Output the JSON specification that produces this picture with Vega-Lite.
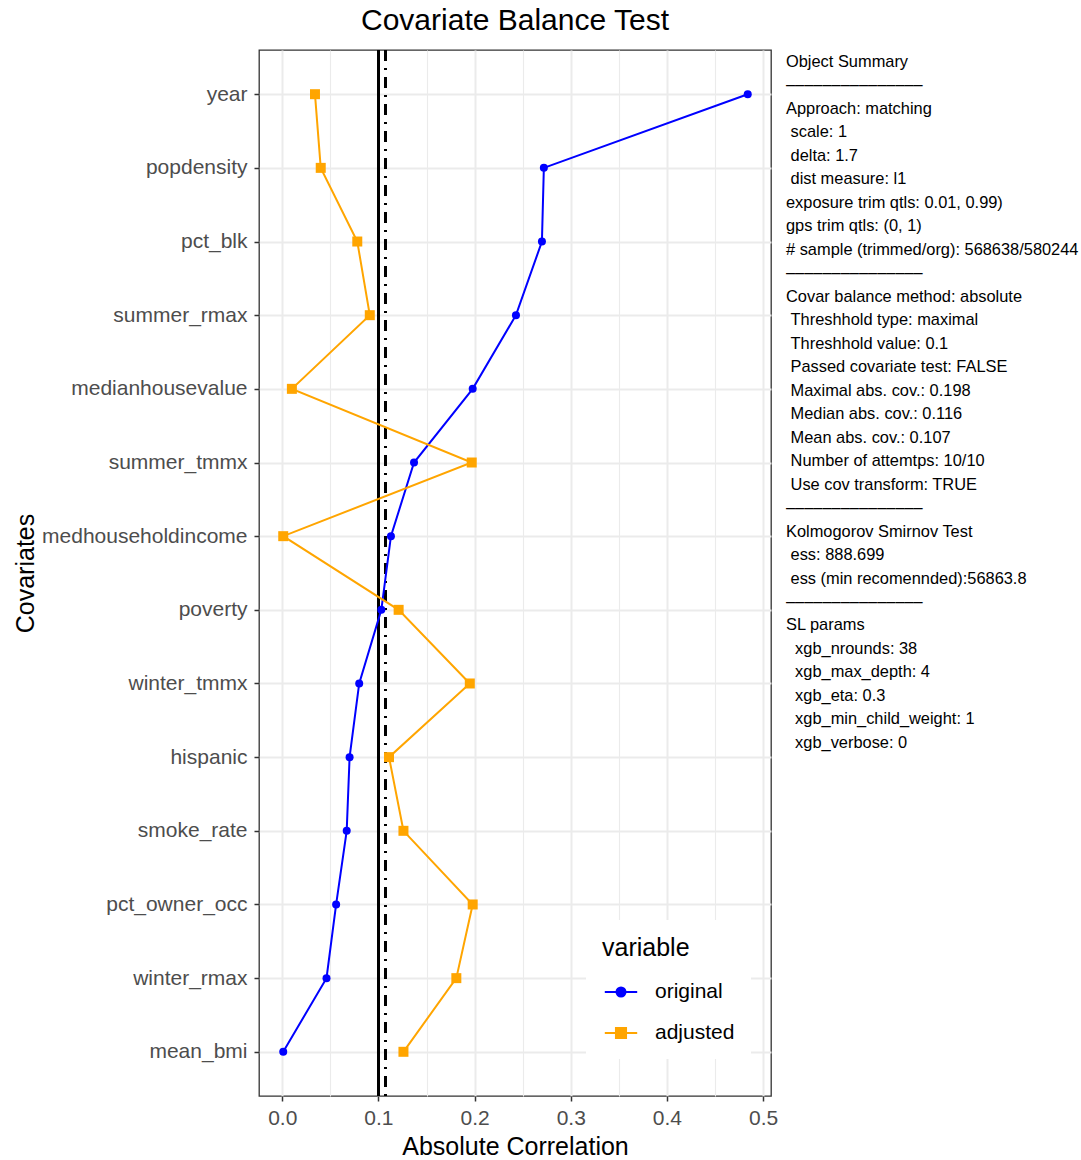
{
  "$schema": "https://vega.github.io/schema/vega-lite/v6.json",
  "padding": {"left": 12, "top": 5, "right": 0, "bottom": 0},
  "background": "white",
  "config": {
    "font": "Liberation Sans",
    "concat": {"spacing": 7},
    "title": {"font": "Liberation Sans", "fontWeight": "normal", "color": "black"},
    "axis": {"labelFont": "Liberation Sans", "titleFont": "Liberation Sans"}
  },
  "datasets": {
    "balance": [
      {"covariate": "year", "variable": "original", "value": 0.484, "idx": 1},
      {"covariate": "popdensity", "variable": "original", "value": 0.272, "idx": 2},
      {"covariate": "pct_blk", "variable": "original", "value": 0.270, "idx": 3},
      {"covariate": "summer_rmax", "variable": "original", "value": 0.243, "idx": 4},
      {"covariate": "medianhousevalue", "variable": "original", "value": 0.198, "idx": 5},
      {"covariate": "summer_tmmx", "variable": "original", "value": 0.137, "idx": 6},
      {"covariate": "medhouseholdincome", "variable": "original", "value": 0.113, "idx": 7},
      {"covariate": "poverty", "variable": "original", "value": 0.103, "idx": 8},
      {"covariate": "winter_tmmx", "variable": "original", "value": 0.080, "idx": 9},
      {"covariate": "hispanic", "variable": "original", "value": 0.070, "idx": 10},
      {"covariate": "smoke_rate", "variable": "original", "value": 0.067, "idx": 11},
      {"covariate": "pct_owner_occ", "variable": "original", "value": 0.056, "idx": 12},
      {"covariate": "winter_rmax", "variable": "original", "value": 0.046, "idx": 13},
      {"covariate": "mean_bmi", "variable": "original", "value": 0.001, "idx": 14},
      {"covariate": "year", "variable": "adjusted", "value": 0.034, "idx": 1},
      {"covariate": "popdensity", "variable": "adjusted", "value": 0.040, "idx": 2},
      {"covariate": "pct_blk", "variable": "adjusted", "value": 0.078, "idx": 3},
      {"covariate": "summer_rmax", "variable": "adjusted", "value": 0.091, "idx": 4},
      {"covariate": "medianhousevalue", "variable": "adjusted", "value": 0.010, "idx": 5},
      {"covariate": "summer_tmmx", "variable": "adjusted", "value": 0.197, "idx": 6},
      {"covariate": "medhouseholdincome", "variable": "adjusted", "value": 0.001, "idx": 7},
      {"covariate": "poverty", "variable": "adjusted", "value": 0.121, "idx": 8},
      {"covariate": "winter_tmmx", "variable": "adjusted", "value": 0.195, "idx": 9},
      {"covariate": "hispanic", "variable": "adjusted", "value": 0.111, "idx": 10},
      {"covariate": "smoke_rate", "variable": "adjusted", "value": 0.126, "idx": 11},
      {"covariate": "pct_owner_occ", "variable": "adjusted", "value": 0.198, "idx": 12},
      {"covariate": "winter_rmax", "variable": "adjusted", "value": 0.181, "idx": 13},
      {"covariate": "mean_bmi", "variable": "adjusted", "value": 0.126, "idx": 14}
    ],
    "summary": [
      {"line": 1, "text": "Object Summary"},
      {"line": 2, "text": "–––––––––––––––"},
      {"line": 3, "text": "Approach: matching"},
      {"line": 4, "text": "\u200b\u00a0scale: 1"},
      {"line": 5, "text": "\u200b\u00a0delta: 1.7"},
      {"line": 6, "text": "\u200b\u00a0dist measure: l1"},
      {"line": 7, "text": "exposure trim qtls: 0.01, 0.99)"},
      {"line": 8, "text": "gps trim qtls: (0, 1)"},
      {"line": 9, "text": "# sample (trimmed/org): 568638/580244"},
      {"line": 10, "text": "–––––––––––––––"},
      {"line": 11, "text": "Covar balance method: absolute"},
      {"line": 12, "text": "\u200b\u00a0Threshhold type: maximal"},
      {"line": 13, "text": "\u200b\u00a0Threshhold value: 0.1"},
      {"line": 14, "text": "\u200b\u00a0Passed covariate test: FALSE"},
      {"line": 15, "text": "\u200b\u00a0Maximal abs. cov.: 0.198"},
      {"line": 16, "text": "\u200b\u00a0Median abs. cov.: 0.116"},
      {"line": 17, "text": "\u200b\u00a0Mean abs. cov.: 0.107"},
      {"line": 18, "text": "\u200b\u00a0Number of attemtps: 10/10"},
      {"line": 19, "text": "\u200b\u00a0Use cov transform: TRUE"},
      {"line": 20, "text": "–––––––––––––––"},
      {"line": 21, "text": "Kolmogorov Smirnov Test"},
      {"line": 22, "text": "\u200b\u00a0ess: 888.699"},
      {"line": 23, "text": "\u200b\u00a0ess (min recomennded):56863.8"},
      {"line": 24, "text": "–––––––––––––––"},
      {"line": 25, "text": "SL params"},
      {"line": 26, "text": "\u200b\u00a0\u00a0xgb_nrounds: 38"},
      {"line": 27, "text": "\u200b\u00a0\u00a0xgb_max_depth: 4"},
      {"line": 28, "text": "\u200b\u00a0\u00a0xgb_eta: 0.3"},
      {"line": 29, "text": "\u200b\u00a0\u00a0xgb_min_child_weight: 1"},
      {"line": 30, "text": "\u200b\u00a0\u00a0xgb_verbose: 0"}
    ]
  },
  "hconcat": [
    {
      "title": {"text": "Covariate Balance Test", "fontSize": 30, "anchor": "middle", "frame": "group", "offset": 13},
      "width": 512,
      "height": 1046,
      "view": {"stroke": "#333333", "strokeWidth": 1.3},
      "data": {"name": "balance"},
      "encoding": {
        "x": {
          "field": "value", "type": "quantitative",
          "scale": {"domain": [-0.0242, 0.5082], "nice": false, "zero": false},
          "axis": {
            "title": "Absolute Correlation",
            "titleFontSize": 25, "titleFontWeight": "normal", "titleColor": "black", "titlePadding": 6,
            "values": [0, 0.05, 0.1, 0.15, 0.2, 0.25, 0.3, 0.35, 0.4, 0.45, 0.5],
            "labelExpr": "round(datum.value * 100) % 10 == 0 ? format(datum.value, '.1f') : ''",
            "labelFontSize": 21, "labelColor": "#4d4d4d", "labelPadding": 6, "labelOverlap": false, "labelFlush": false,
            "domain": false,
            "tickSize": 5, "tickWidth": 1.5,
            "tickColor": {"condition": {"test": "round(datum.value * 100) % 10 != 0", "value": "transparent"}, "value": "#333333"},
            "grid": true, "gridColor": "#ebebeb",
            "gridWidth": {"condition": {"test": "round(datum.value * 100) % 10 != 0", "value": 1.1}, "value": 2}
          }
        },
        "y": {
          "field": "covariate", "type": "nominal",
          "sort": ["year", "popdensity", "pct_blk", "summer_rmax", "medianhousevalue", "summer_tmmx", "medhouseholdincome", "poverty", "winter_tmmx", "hispanic", "smoke_rate", "pct_owner_occ", "winter_rmax", "mean_bmi"],
          "scale": {"type": "point", "padding": 0.6},
          "axis": {
            "title": "Covariates",
            "titleFontSize": 25, "titleFontWeight": "normal", "titleColor": "black", "titlePadding": 3,
            "labelFontSize": 21, "labelColor": "#4d4d4d", "labelPadding": 7, "labelLimit": 300,
            "maxExtent": 400,
            "domain": false, "tickSize": 5, "tickWidth": 1.5, "tickColor": "#333333",
            "grid": true, "gridColor": "#ebebeb", "gridWidth": 2
          }
        }
      },
      "layer": [
        {
          "mark": {"type": "rule", "color": "black", "strokeWidth": 2.2},
          "encoding": {"x": {"datum": 0.1, "type": "quantitative"}, "y": null}
        },
        {
          "mark": {"type": "rule", "color": "black", "strokeWidth": 2.2, "strokeDash": [11, 7, 2, 7]},
          "encoding": {"x": {"datum": 0.107, "type": "quantitative"}, "y": null}
        },
        {
          "mark": {"type": "line", "strokeWidth": 2},
          "encoding": {
            "order": {"field": "idx", "type": "quantitative"},
            "color": {
              "field": "variable", "type": "nominal",
              "scale": {"domain": ["original", "adjusted"], "range": ["#0000FF", "#FFA500"]},
              "legend": {
                "title": "variable",
                "orient": "none", "legendX": 327, "legendY": 870,
                "fillColor": "white", "padding": 16,
                "titleFontSize": 25, "titleFontWeight": "normal", "titleColor": "black", "titlePadding": 12,
                "labelFontSize": 21, "labelColor": "black", "labelOffset": 15,
                "symbolSize": 1296, "symbolStrokeWidth": 2, "rowPadding": 12,
                "encode": {
                  "symbols": {
                    "update": {
                      "shape": {"signal": "datum.value === 'original' ? 'M-0.9,0L0.9,0M0.25,0A0.25,0.25,0,1,1,-0.25,0A0.25,0.25,0,1,1,0.25,0Z' : 'M-0.9,0L0.9,0M-0.28,-0.28L0.28,-0.28L0.28,0.28L-0.28,0.28Z'"},
                      "fill": {"signal": "datum.value === 'original' ? '#0000FF' : '#FFA500'"},
                      "stroke": {"signal": "datum.value === 'original' ? '#0000FF' : '#FFA500'"},
                      "fillOpacity": {"value": 1},
                      "strokeOpacity": {"value": 1},
                      "opacity": {"value": 1},
                      "strokeWidth": {"value": 2},
                      "size": {"value": 1296}
                    }
                  }
                }
              }
            }
          }
        },
        {
          "transform": [{"filter": "datum.variable === 'original'"}],
          "mark": {"type": "point", "filled": true, "opacity": 1, "shape": "circle", "size": 64},
          "encoding": {"color": {"field": "variable", "type": "nominal"}}
        },
        {
          "transform": [{"filter": "datum.variable === 'adjusted'"}],
          "mark": {"type": "point", "filled": true, "opacity": 1, "shape": "square", "size": 100},
          "encoding": {"color": {"field": "variable", "type": "nominal"}}
        }
      ]
    },
    {
      "width": 290,
      "height": 1046,
      "view": {"stroke": null},
      "data": {"name": "summary"},
      "mark": {"type": "text", "align": "left", "baseline": "middle", "fontSize": 16.4, "color": "black", "font": "Liberation Sans"},
      "encoding": {
        "x": {"datum": 0, "type": "quantitative", "scale": {"domain": [0, 1], "nice": false}, "axis": null},
        "y": {"field": "line", "type": "quantitative", "scale": {"domain": [0.489, 45.04], "reverse": true, "nice": false, "zero": false}, "axis": null},
        "text": {"field": "text"}
      }
    }
  ]
}
